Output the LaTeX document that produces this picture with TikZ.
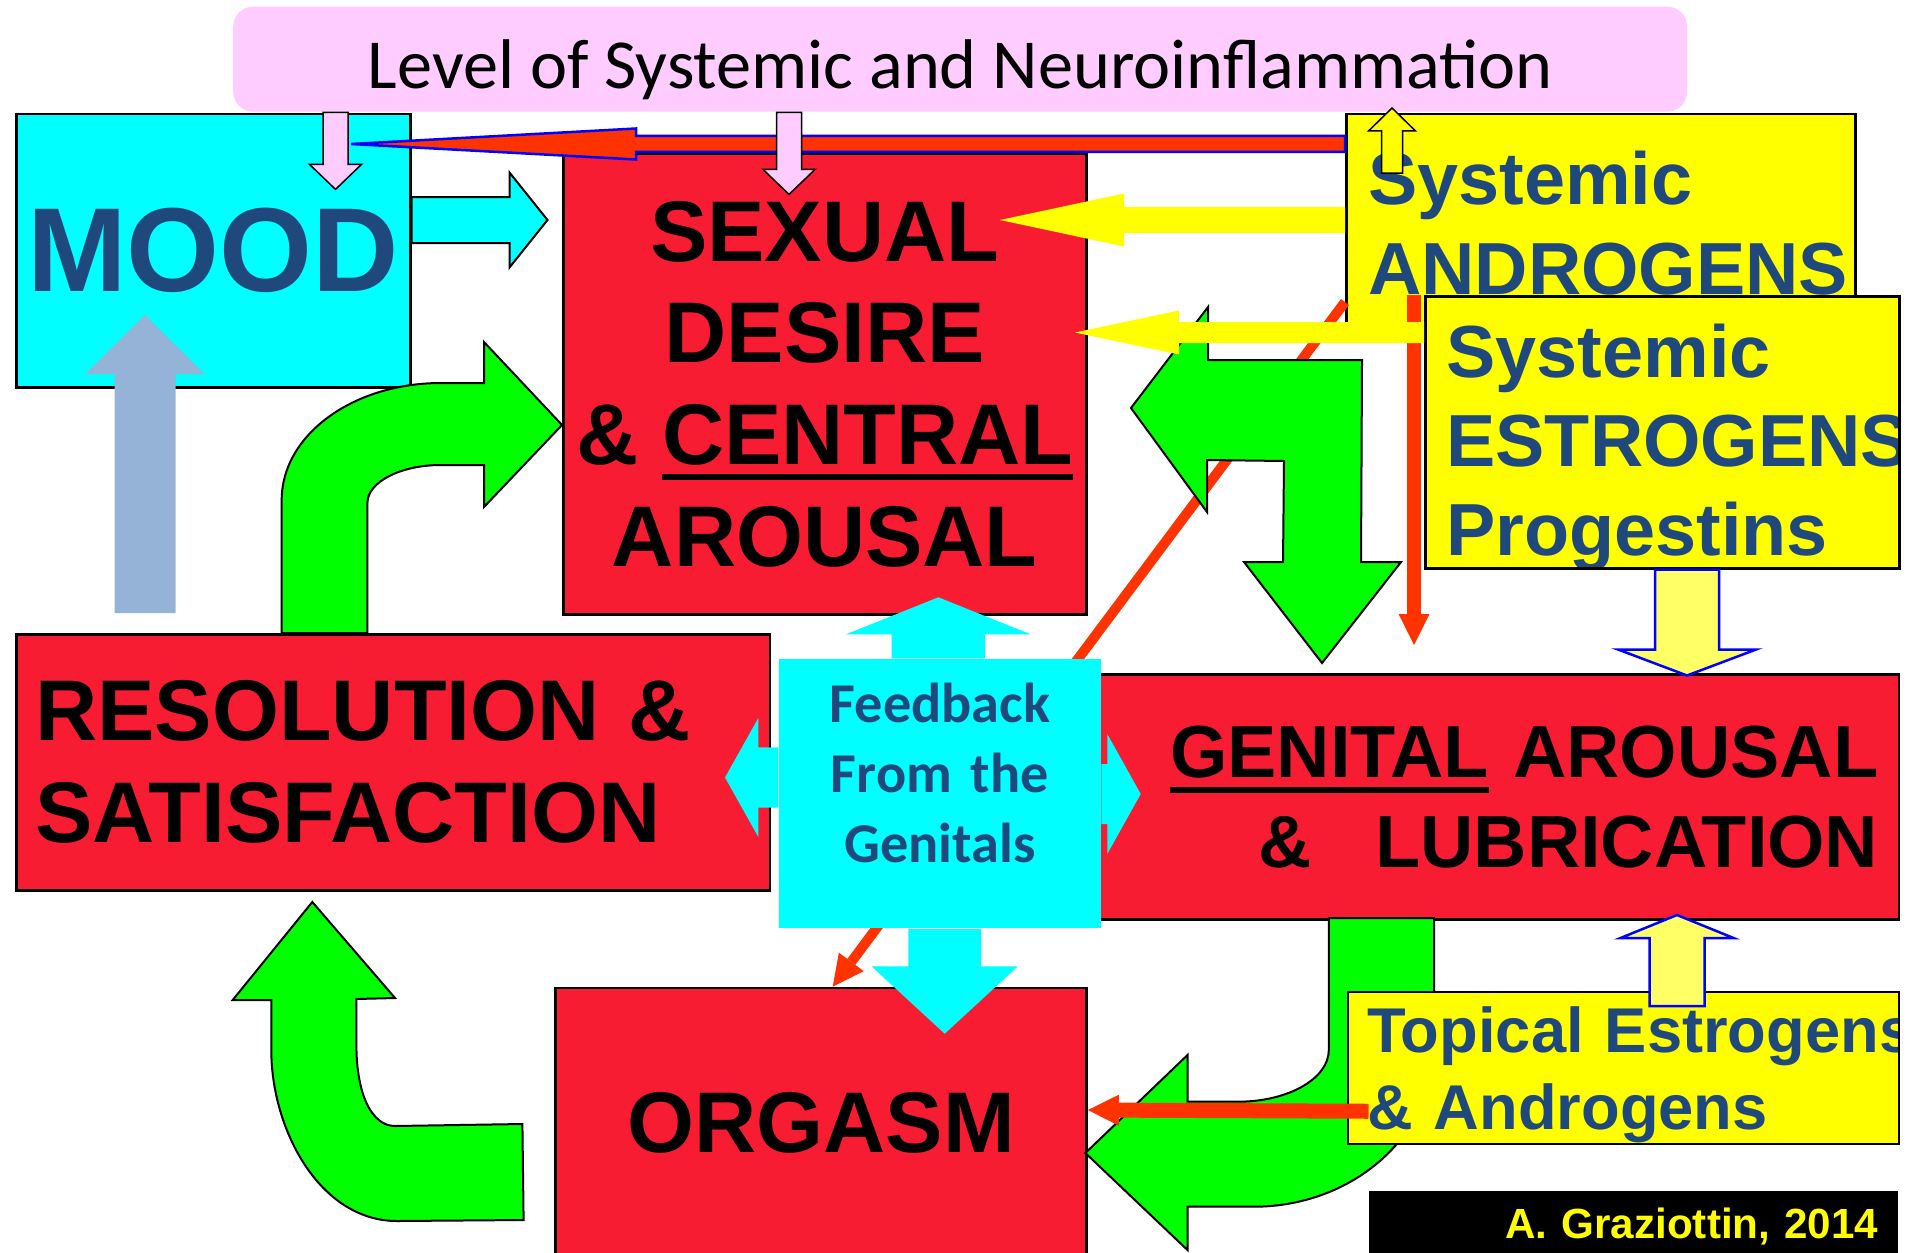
\documentclass[tikz,border=0pt]{standalone}
\usepackage{fontspec}
\setmainfont{Liberation Sans}
\newfontfamily\calibri{Carlito}
\usetikzlibrary{arrows.meta, calc}

\definecolor{slidered}{RGB}{248,28,50}
\definecolor{darkblue}{RGB}{31,73,125}
\definecolor{lightpink}{RGB}{255,204,255}
\definecolor{orangered}{RGB}{255,51,0}
\definecolor{paleyellow}{RGB}{255,255,102}
\definecolor{steelblue}{RGB}{149,179,215}
\definecolor{brightcyan}{RGB}{0,255,255}
\definecolor{brightyellow}{RGB}{255,255,0}
\definecolor{brightgreen}{RGB}{0,255,0}

% fat arrow: style, tail, angle, length, shaft half width, head half width, head length
\newcommand{\fatarrow}[7]{%
  \path[#1, shift={#2}, rotate=#3]
    (0,-#5) -- (#4-#7,-#5) -- (#4-#7,-#6) -- (#4,0)
    -- (#4-#7,#6) -- (#4-#7,#5) -- (0,#5) -- cycle;}
% word with a heavy underline
\newcommand{\heavyul}[1]{\setbox0=\hbox{#1}\rlap{\rule[-4.3pt]{\wd0}{1.7pt}}\box0\relax}

\begin{document}
\begin{tikzpicture}[x=0.1mm, y=-0.1mm,
    redbox/.style={draw=black, fill=slidered, line width=0.25mm, inner sep=0pt, anchor=north west,
      font=\fontsize{24.5}{29}\selectfont\bfseries},
    hormonebox/.style={draw=black, fill=brightyellow, line width=0.25mm, inner sep=0pt, anchor=north west,
      text=darkblue, font=\fontsize{21}{25.4}\selectfont\bfseries},
    greenarrow/.style={fill=brightgreen, draw=black, line width=0.2mm},
    pinkarrow/.style={fill=lightpink, draw=black, line width=0.15mm},
    palearrow/.style={fill=paleyellow, draw=blue, line width=0.25mm},
    thinarrow/.style={draw=orangered, -{Triangle[length=3.1mm, width=3.1mm, line width=0pt]}}]
  \useasboundingbox (0,0) rectangle (1919,1252);

  % banner on top
  \node[fill=lightpink, rounded corners=2mm, anchor=north west, minimum width=145.4mm, minimum height=10.5mm,
    inner sep=0pt, font=\calibri\fontsize{20}{24}\selectfont, text height=16.8pt, text depth=0pt]
    (inflam) at (232.5,6) {Level of Systemic and Neuroinflammation};

  % main boxes
  \node[draw=black, fill=brightcyan, line width=0.25mm, inner sep=0pt, anchor=north west,
    minimum width=39.4mm, minimum height=27.3mm, text=darkblue, font=\fontsize{34}{40}\selectfont\bfseries]
    (mood) at (15,113) {MOOD};
  \node[redbox, minimum width=52.3mm, minimum height=46mm, align=center]
    (desire) at (562,153) {SEXUAL\\DESIRE\\\& \heavyul{CENTRAL}\\AROUSAL};
  \node[redbox, minimum width=53.12mm, minimum height=27mm] (orgasm) at (554.2,986.7) {ORGASM};

  % hormone boxes
  \node[hormonebox, minimum width=50.9mm, minimum height=21.8mm, inner xsep=2.2mm, text width=46.5mm, align=left]
    (andro) at (1345,113) {Systemic\\ANDROGENS};
  \node[hormonebox, minimum width=47.4mm, minimum height=27.2mm,
    path picture={\node[anchor=base west, inner sep=0pt, text width=60mm, align=left, text=darkblue,
      font=\fontsize{21}{25.4}\selectfont\bfseries]
      at ($(path picture bounding box.north west)+(20,81)$) {Systemic\\ESTROGENS\\Progestins};}]
    (estro) at (1424,295) {};

  % thin red arrows from the androgens
  \draw[thinarrow, line width=1mm] (andro.west |- 0,302) -- (832.7,0 |- orgasm.north);
  \draw[greenarrow] (1208,307) -- (1131,408) -- (1207,512) -- (1207,460) -- (1284,461) -- (1283,562)
    -- (1244,562) -- (1322,663) -- (1401,562) -- (1361,562) -- (1362,360) -- (1208,360) -- cycle;
  \draw[thinarrow, line width=1.4mm] (estro.north -| 1414,0) -- (1414,645);

  % hormones to desire and mood
  \fatarrow{fill=brightyellow}{(andro.west |- 0,220)}{180}{345}{13}{26.5}{124}
  \fatarrow{fill=brightyellow}{(estro.west |- 0,332.5)}{180}{349}{10.5}{22}{104}
  \fatarrow{draw=blue, fill=orangered, line width=0.25mm}{(andro.west |- 0,144)}{180}{994}{8}{15.5}{285}
  \fatarrow{pinkarrow}{(335.5,0 |- inflam.south)}{-90}{77}{12.5}{26}{25}
  \fatarrow{pinkarrow}{(789,0 |- inflam.south)}{-90}{82}{12.5}{26}{25}
  \fatarrow{draw=black, fill=brightyellow, line width=0.15mm}{(1392,173)}{90}{65}{10.5}{23.5}{23}
  \fatarrow{draw=black, fill=brightcyan, line width=0.2mm}{(mood.east |- 0,220)}{0}{136}{23}{47.5}{38}
  \fatarrow{fill=steelblue}{(145,613)}{90}{298}{30.5}{59.5}{59}

  % resolution back to desire
  \draw[greenarrow] (281.7,633) -- (281.7,500) .. controls (281.7,435) and (353,383) .. (441,383)
    -- (484,383) -- (484,342) -- (desire.west |- 0,425) -- (484,507) -- (484,465) -- (441,465)
    .. controls (400.5,465) and (367.4,482) .. (367.4,503) -- (367.4,633) -- cycle;

  \node[redbox, minimum width=75.35mm, minimum height=25.6mm, inner xsep=1.9mm, text width=71.55mm, align=left]
    (resol) at (15,633) {RESOLUTION \&\\SATISFACTION};
  \node[redbox, minimum width=80.26mm, minimum height=24.5mm, inner xsep=2.06mm, text width=76.14mm, align=right,
    font=\fontsize{21}{25.4}\selectfont\bfseries]
    (genital) at (1095,673.3) {\heavyul{GENITAL} AROUSAL\\\&\hspace{18pt}LUBRICATION};

  % feedback cross
  \node[fill=brightcyan, inner sep=0pt, anchor=north west, minimum width=32.17mm, minimum height=26.94mm,
    text width=30mm, align=center, text height=11pt, text depth=51.6pt, text=darkblue,
    font=\calibri\bfseries\fontsize{16}{19.9}\selectfont]
    (feedback) at (778.3,658.3) {Feedback\\From the\\Genitals};
  \fatarrow{fill=brightcyan}{(feedback.north -| 938.3,0)}{90}{61}{46.6}{92.2}{37}
  \fatarrow{fill=brightcyan}{(feedback.west |- 0,777.5)}{180}{53.3}{30.2}{59.5}{33.3}
  \fatarrow{fill=brightcyan}{(feedback.east |- 0,794)}{0}{39.3}{30}{59.7}{33.3}
  \fatarrow{fill=brightcyan}{(feedback.south -| 944.7,0)}{-90}{104.6}{36.4}{73}{67.3}

  % orgasm loops
  \draw[greenarrow] (312.3,902) -- (395,998) -- (356.4,999) -- (356.4,1045)
    .. controls (356.4,1095) and (372,1126) .. (395,1126) -- (522.4,1124) -- (523.6,1220) -- (397,1221)
    .. controls (320,1221) and (271.3,1130) .. (271.3,1050) -- (271.3,1000) -- (232.7,1000) -- cycle;
  \draw[greenarrow] (1328.8,918) -- (1328.8,1050) .. controls (1328.8,1078.6) and (1288.1,1101.7) .. (1238,1101.7)
    -- (1187.5,1101.7) -- (1187.5,1055) -- (1085.4,1153) -- (1187.5,1250) -- (1187.5,1206.7) -- (1253.6,1206.7)
    .. controls (1353.2,1206.7) and (1434,1135.1) .. (1434,1046.7) -- (1434,918) -- cycle;

  % topical hormones
  \node[hormonebox, minimum width=55.1mm, minimum height=15.2mm,
    path picture={\node[anchor=base west, inner sep=0pt, text width=70mm, align=left, text=darkblue,
      font=\fontsize{18}{21.8}\selectfont\bfseries]
      at ($(path picture bounding box.north west)+(18,61)$) {Topical Estrogens\\\& Androgens};}]
    (topical) at (1346.5,990.7) {};
  \fatarrow{palearrow}{(1687,0 |- estro.south)}{-90}{106}{32}{69}{26}
  \fatarrow{palearrow}{(1677,1006)}{90}{91}{27.5}{56.5}{23}
  \draw[thinarrow, line width=1.5mm] ($(topical.west)+(22,43.3)$) -- (orgasm.east |- 0,1110);

  \node[fill=black, inner ysep=0pt, inner xsep=2.02mm, anchor=north west, minimum width=52.9mm, minimum height=7.1mm,
    text width=48.86mm, align=right, text=brightyellow, font=\fontsize{12}{14}\selectfont\bfseries]
    (credit) at (1368.6,1190) {A. Graziottin, 2014};
\end{tikzpicture}
\end{document}
